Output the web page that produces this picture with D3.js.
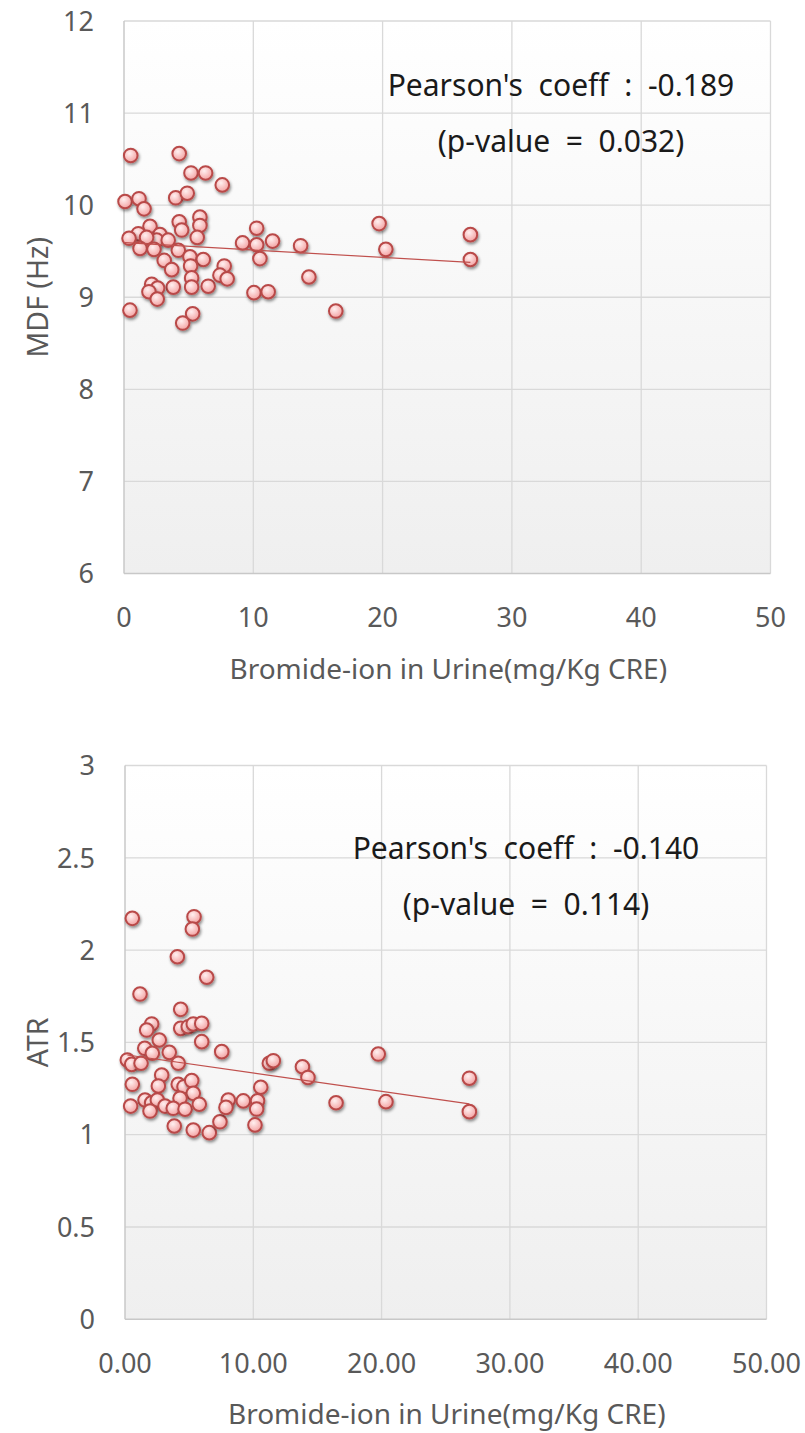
<!DOCTYPE html>
<html>
<head>
<meta charset="utf-8">
<script src="https://cdn.jsdelivr.net/npm/d3@7"></script>
<style>
  html, body { margin: 0; padding: 0; background: #fff; }
  svg { display: block; }
</style>
</head>
<body>
<div id="chart"></div>
<script>
// ---- data ----
const bromideTop = [0.52, 4.27, 5.18, 6.31, 7.60, 0.08, 1.16, 1.55, 4.00, 4.89, 5.87, 5.87, 4.27, 4.46, 2.01,
  1.11, 0.39, 2.78, 2.53, 3.42, 1.75, 5.66, 1.24, 2.32, 4.20, 5.10, 6.13, 3.11, 3.69, 5.15, 5.23, 5.23, 6.51,
  3.81, 2.14, 2.60, 1.93, 2.57, 7.75, 7.42, 7.98, 10.26, 9.17, 10.26, 11.49, 10.51, 13.66, 10.05, 11.15, 0.46,
  5.31, 4.54, 14.30, 16.38, 19.73, 20.25, 26.79, 26.79];
const mdfValues = [10.54, 10.56, 10.35, 10.35, 10.22, 10.04, 10.07, 9.96, 10.08, 10.13, 9.87, 9.78, 9.82, 9.73, 9.77,
  9.69, 9.64, 9.68, 9.62, 9.62, 9.65, 9.65, 9.53, 9.52, 9.51, 9.44, 9.41, 9.40, 9.30, 9.34, 9.21, 9.11, 9.12,
  9.11, 9.14, 9.10, 9.06, 8.98, 9.34, 9.24, 9.20, 9.75, 9.59, 9.57, 9.61, 9.42, 9.56, 9.05, 9.06, 8.86,
  8.82, 8.72, 9.22, 8.85, 9.80, 9.52, 9.68, 9.41];

const bromideBottom = [0.57, 5.38, 5.25, 4.08, 6.37, 1.17, 4.34, 2.08, 1.69, 4.34, 4.93, 5.32, 5.98, 2.67, 5.98,
  7.54, 1.54, 2.13, 3.45, 0.18, 0.52, 1.25, 4.15, 11.25, 11.56, 13.83, 14.26, 0.57, 2.86, 2.60, 4.15, 4.60,
  5.20, 5.32, 4.29, 1.56, 2.08, 2.52, 0.44, 1.95, 3.12, 3.76, 4.68, 5.79, 3.84, 5.32, 6.57, 7.40, 8.05, 7.87,
  9.22, 10.58, 10.33, 10.26, 10.13, 19.74, 16.45, 20.34, 26.84, 26.84];
const atrValues = [2.172, 2.181, 2.114, 1.964, 1.853, 1.762, 1.679, 1.600, 1.567, 1.576, 1.585, 1.600, 1.603, 1.513, 1.504,
  1.450, 1.468, 1.441, 1.446, 1.405, 1.381, 1.387, 1.387, 1.387, 1.401, 1.368, 1.310, 1.273, 1.323, 1.264, 1.273, 1.260,
  1.293, 1.224, 1.197, 1.188, 1.173, 1.188, 1.155, 1.128, 1.155, 1.143, 1.138, 1.165, 1.047, 1.025, 1.011, 1.070, 1.188, 1.148,
  1.183, 1.257, 1.184, 1.139, 1.053, 1.437, 1.173, 1.179, 1.306, 1.125];

const xTicks = [0, 10, 20, 30, 40, 50];
const mdfTicks = [6, 7, 8, 9, 10, 11, 12];
const atrTicks = [0, 0.5, 1, 1.5, 2, 2.5, 3];

const xTitle = "Bromide-ion in Urine(mg/Kg CRE)";
const topStats = ["Pearson's  coeff  :  -0.189", "(p-value  =  0.032)"];
const bottomStats = ["Pearson's  coeff  :  -0.140", "(p-value  =  0.114)"];

// ---- layout ----
const WIDTH = 805, HEIGHT = 1433;
const FONT = "'Noto Sans', 'Open Sans', sans-serif";
const LABEL_COLOR = "#595959";
const GRID_COLOR = "#d9d9d9";
const MARKER_STROKE = "#b94a48";
const TREND_COLOR = "#c0504d";

const svg = d3.select("#chart").append("svg")
  .attr("width", WIDTH)
  .attr("height", HEIGHT);

const defs = svg.append("defs");

const bg = defs.append("linearGradient")
  .attr("id", "plotBg")
  .attr("x1", 0).attr("y1", 0).attr("x2", 0).attr("y2", 1);
bg.append("stop").attr("offset", "0%").attr("stop-color", "#ffffff");
bg.append("stop").attr("offset", "100%").attr("stop-color", "#efefef");

const dot = defs.append("radialGradient")
  .attr("id", "dotFill")
  .attr("cx", "40%").attr("cy", "35%").attr("r", "65%");
dot.append("stop").attr("offset", "0%").attr("stop-color", "#fff0f0");
dot.append("stop").attr("offset", "100%").attr("stop-color", "#f4a3a3");

defs.append("filter")
  .attr("id", "shadow")
  .attr("x", "-50%").attr("y", "-50%").attr("width", "200%").attr("height", "200%")
  .append("feDropShadow")
  .attr("dx", 1).attr("dy", 2)
  .attr("stdDeviation", 1.5)
  .attr("flood-color", "#000")
  .attr("flood-opacity", 0.45);

// least squares line, as the spreadsheet trendline does
const fitLine = (xs, ys) => {
  const mx = d3.mean(xs), my = d3.mean(ys);
  const slope = d3.sum(xs, (v, i) => (v - mx) * (ys[i] - my)) / d3.sum(xs, v => (v - mx) * (v - mx));
  return { slope, intercept: my - slope * mx };
};

function drawPanel(opts) {
  const { xs, ys, yTicks, yFormat, xFormat, yTitle, stats, box, statsPos, yTitleX } = opts;

  const x = d3.scaleLinear().domain([0, 50]).range([box.left, box.right]);
  const y = d3.scaleLinear().domain(d3.extent(yTicks)).range([box.bottom, box.top]);

  const g = svg.append("g");

  g.append("rect")
    .attr("x", box.left)
    .attr("y", box.top)
    .attr("width", box.right - box.left)
    .attr("height", box.bottom - box.top)
    .attr("fill", "url(#plotBg)");

  // grid
  g.append("g")
    .selectAll("line")
    .data(yTicks.slice(1))
    .join("line")
    .attr("x1", box.left).attr("x2", box.right)
    .attr("y1", d => y(d)).attr("y2", d => y(d))
    .attr("stroke", GRID_COLOR)
    .attr("stroke-width", 1.3);

  g.append("g")
    .selectAll("line")
    .data(xTicks.slice(1))
    .join("line")
    .attr("x1", d => x(d)).attr("x2", d => x(d))
    .attr("y1", box.top).attr("y2", box.bottom)
    .attr("stroke", GRID_COLOR)
    .attr("stroke-width", 1.3);

  // axes lines (left + bottom)
  g.append("line")
    .attr("x1", box.left).attr("x2", box.left)
    .attr("y1", box.top).attr("y2", box.bottom)
    .attr("stroke", "#c8c8c8").attr("stroke-width", 1.5);
  g.append("line")
    .attr("x1", box.left).attr("x2", box.right)
    .attr("y1", box.bottom).attr("y2", box.bottom)
    .attr("stroke", "#c8c8c8").attr("stroke-width", 1.5);

  // y tick labels
  g.append("g")
    .selectAll("text")
    .data(yTicks)
    .join("text")
    .attr("x", box.left - 30)
    .attr("y", d => y(d))
    .attr("dy", "0.36em")
    .attr("text-anchor", "end")
    .attr("font-family", FONT)
    .attr("font-size", 27)
    .attr("fill", LABEL_COLOR)
    .text(yFormat);

  // x tick labels
  g.append("g")
    .selectAll("text")
    .data(xTicks)
    .join("text")
    .attr("x", d => x(d))
    .attr("y", box.bottom + 44)
    .attr("dy", "0.36em")
    .attr("text-anchor", "middle")
    .attr("font-family", FONT)
    .attr("font-size", 27)
    .attr("fill", LABEL_COLOR)
    .text(xFormat);

  g.append("text")
    .attr("x", (box.left + box.right) / 2 + 1)
    .attr("y", box.bottom + 95)
    .attr("dy", "0.36em")
    .attr("text-anchor", "middle")
    .attr("font-family", FONT)
    .attr("font-size", 28)
    .attr("fill", LABEL_COLOR)
    .text(xTitle);

  g.append("text")
    .attr("transform", `translate(${yTitleX},${(box.top + box.bottom) / 2}) rotate(-90)`)
    .attr("dy", "0.36em")
    .attr("text-anchor", "middle")
    .attr("font-family", FONT)
    .attr("font-size", 28.5)
    .attr("fill", LABEL_COLOR)
    .text(yTitle);

  // points
  const pts = xs.map((v, i) => ({ x: v, y: ys[i] }));
  g.append("g")
    .selectAll("circle")
    .data(pts)
    .join("circle")
    .attr("cx", d => x(d.x))
    .attr("cy", d => y(d.y))
    .attr("r", 6.8)
    .attr("fill", "url(#dotFill)")
    .attr("stroke", MARKER_STROKE)
    .attr("stroke-width", 2)
    .attr("filter", "url(#shadow)");

  // trendline
  const fit = fitLine(xs, ys);
  const [x0, x1] = d3.extent(xs);
  g.append("path")
    .datum([x0, x1])
    .attr("fill", "none")
    .attr("stroke", TREND_COLOR)
    .attr("stroke-width", 1.2)
    .attr("d", d3.line().x(d => x(d)).y(d => y(fit.intercept + fit.slope * d)));

  // stats text
  g.append("g")
    .selectAll("text")
    .data(stats)
    .join("text")
    .attr("x", statsPos.x)
    .attr("y", (d, i) => statsPos.y + i * 56)
    .attr("dy", "0.36em")
    .attr("text-anchor", "middle")
    .attr("font-family", FONT)
    .attr("font-size", 30)
    .attr("fill", "#1a1a1a")
    .style("white-space", "pre")
    .text(d => d);
}

drawPanel({
  xs: bromideTop,
  ys: mdfValues,
  yTicks: mdfTicks,
  yFormat: d => d,
  xFormat: d => d,
  yTitle: "MDF (Hz)",
  stats: topStats,
  box: { left: 124, right: 770.5, top: 21, bottom: 573.5 },
  statsPos: { x: 561, y: 85 },
  yTitleX: 38
});

drawPanel({
  xs: bromideBottom,
  ys: atrValues,
  yTicks: atrTicks,
  yFormat: d => d,
  xFormat: d => d3.format(".2f")(d),
  yTitle: "ATR",
  stats: bottomStats,
  box: { left: 125, right: 766.5, top: 765.5, bottom: 1319.3 },
  statsPos: { x: 526, y: 848 },
  yTitleX: 38
});
</script>
</body>
</html>
